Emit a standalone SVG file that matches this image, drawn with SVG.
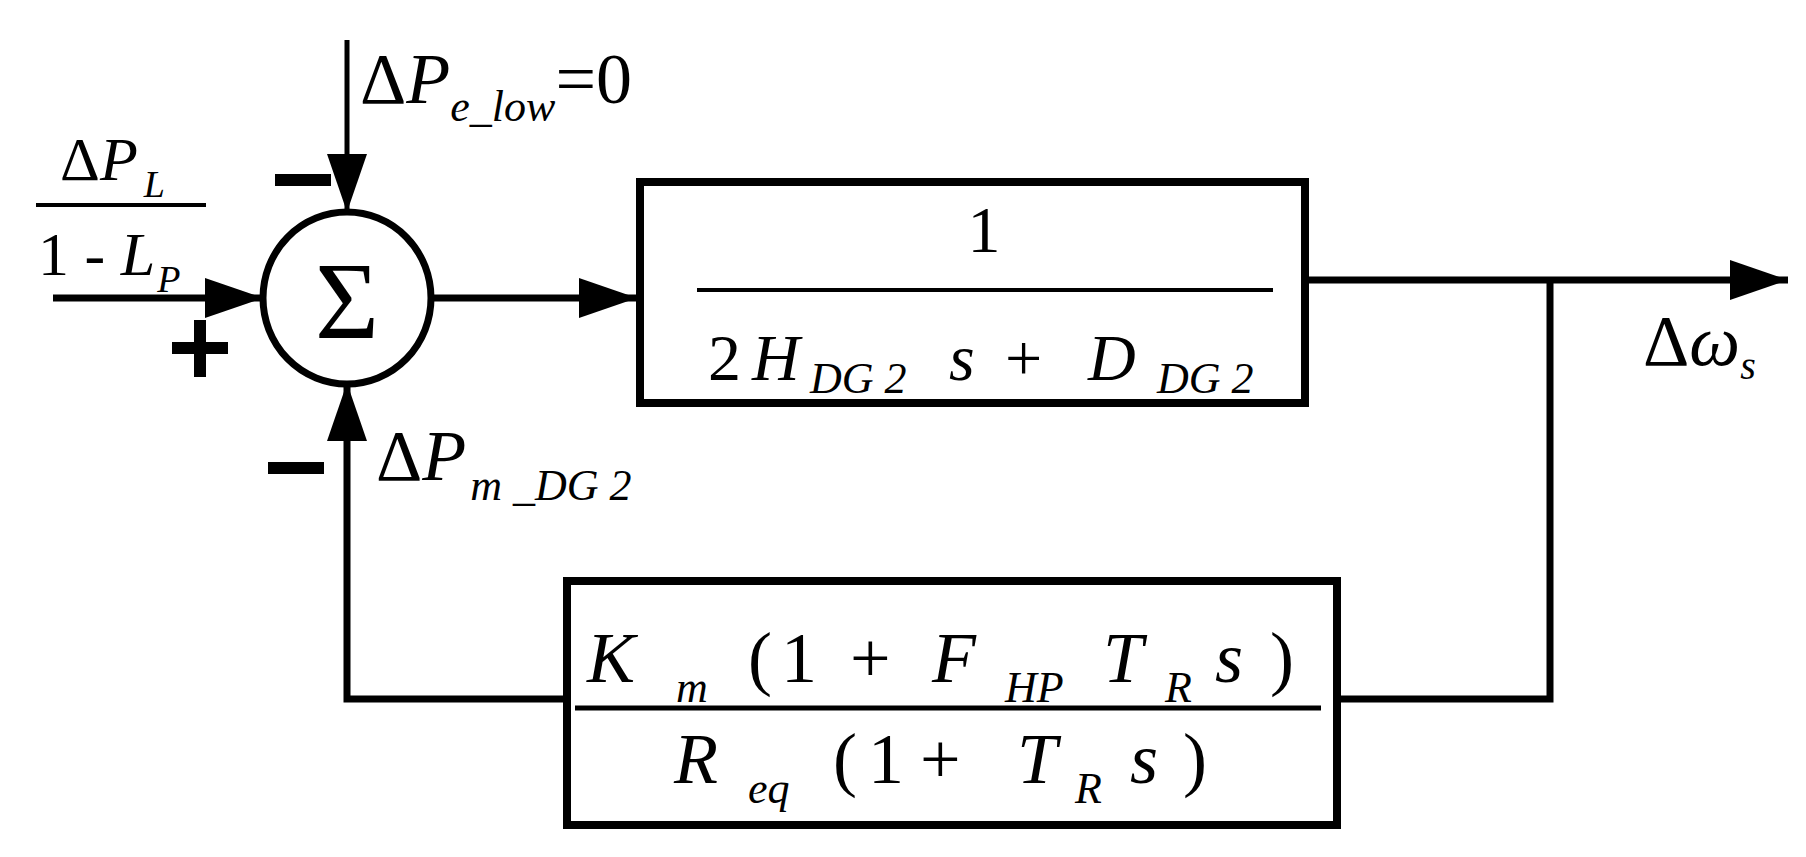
<svg xmlns="http://www.w3.org/2000/svg" width="1806" height="857" viewBox="0 0 1806 857">
<style>
.t{font-family:"Liberation Serif","Times New Roman","DejaVu Serif",serif;fill:#000}
.i{font-style:italic}
.ln{stroke:#000;stroke-width:5;fill:none}
.bx{stroke:#000;stroke-width:8;fill:#fff}
.bar{fill:#000}
</style>
<defs>
<marker id="ah" markerWidth="60" markerHeight="40" refX="58" refY="20" orient="auto" markerUnits="userSpaceOnUse">
<path d="M0,0 L58,20 L0,40 Z" fill="#000"/>
</marker>
</defs>
<rect width="1806" height="857" fill="#fff"/>
<g id="connectors">
<line class="ln" x1="347" y1="40" x2="347" y2="212" marker-end="url(#ah)"/>
<line class="ln" style="stroke-width:7" x1="53" y1="298" x2="263" y2="298" marker-end="url(#ah)"/>
<line class="ln" style="stroke-width:7" x1="431" y1="298" x2="637" y2="298" marker-end="url(#ah)"/>
<line class="ln" style="stroke-width:7" x1="1290" y1="280" x2="1788" y2="280" marker-end="url(#ah)"/>
<polyline class="ln" style="stroke-width:7" points="1550,280 1550,699 1337,699"/>
<polyline class="ln" style="stroke-width:7" points="567,699 347,699 347,383" marker-end="url(#ah)"/>
</g>
<g id="sum">
<ellipse cx="347" cy="298" rx="84" ry="86" fill="#fff" stroke="#000" stroke-width="7"/>
<text class="t" x="347" y="338" font-size="110" text-anchor="middle">Σ</text>
</g>
<g id="signs">
<rect class="bar" x="275" y="174" width="56" height="12"/>
<rect class="bar" x="172" y="342" width="56" height="12"/>
<rect class="bar" x="194" y="320" width="12" height="57"/>
<rect class="bar" x="268" y="462" width="56" height="12"/>
</g>
<g id="labels">
<text class="t" font-size="72" x="360" y="103"><tspan>Δ</tspan><tspan class="i">P</tspan><tspan class="i" font-size="44" dy="18">e_low</tspan><tspan dy="-18">=0</tspan></text>
<text class="t" font-size="62" x="60" y="180"><tspan>Δ</tspan><tspan class="i">P</tspan><tspan class="i" font-size="38" dx="6" dy="17">L</tspan></text>
<line x1="36" y1="205" x2="206" y2="205" stroke="#000" stroke-width="4"/>
<text class="t" font-size="62" x="38" y="275"><tspan>1 - </tspan><tspan class="i">L</tspan><tspan class="i" font-size="38" dx="2" dy="17">P</tspan></text>
<text class="t" font-size="72" x="376" y="480"><tspan>Δ</tspan><tspan class="i">P</tspan><tspan class="i" font-size="44" dx="4" dy="20">m _DG 2</tspan></text>
<text class="t" font-size="72" x="1643" y="365"><tspan>Δ</tspan><tspan class="i">ω</tspan><tspan class="i" font-size="40" dy="14">s</tspan></text>
</g>
<g id="block1">
<rect class="bx" x="640" y="182" width="665" height="221"/>
<text class="t" font-size="66" x="984" y="252" text-anchor="middle">1</text>
<line x1="697" y1="290" x2="1273" y2="290" stroke="#000" stroke-width="4"/>
<text class="t" font-size="66" y="380"><tspan x="708">2</tspan><tspan class="i" x="752">H</tspan><tspan class="i" font-size="44" x="810" dy="13">DG 2</tspan><tspan class="i" x="949" dy="-13">s</tspan><tspan x="1005">+</tspan><tspan class="i" x="1088">D</tspan><tspan class="i" font-size="44" x="1157" dy="13">DG 2</tspan></text>
</g>
<g id="block2">
<rect class="bx" x="567" y="581" width="770" height="244"/>
<text class="t" font-size="72" y="682"><tspan class="i" x="587">K</tspan><tspan class="i" font-size="44" x="676" dy="20">m</tspan><tspan x="748" dy="-20">(</tspan><tspan x="781">1</tspan><tspan x="850">+</tspan><tspan class="i" x="932">F</tspan><tspan class="i" font-size="44" x="1005" dy="20">HP</tspan><tspan class="i" x="1103" dy="-20">T</tspan><tspan class="i" font-size="44" x="1165" dy="20">R</tspan><tspan class="i" x="1215" dy="-20">s</tspan><tspan x="1270">)</tspan></text>
<line x1="575" y1="708" x2="1321" y2="708" stroke="#000" stroke-width="5"/>
<text class="t" font-size="72" y="783"><tspan class="i" x="674">R</tspan><tspan class="i" font-size="44" x="748" dy="20">eq</tspan><tspan x="833" dy="-20">(</tspan><tspan x="868">1</tspan><tspan x="920">+</tspan><tspan class="i" x="1017">T</tspan><tspan class="i" font-size="44" x="1075" dy="20">R</tspan><tspan class="i" x="1130" dy="-20">s</tspan><tspan x="1183">)</tspan></text>
</g>
</svg>
